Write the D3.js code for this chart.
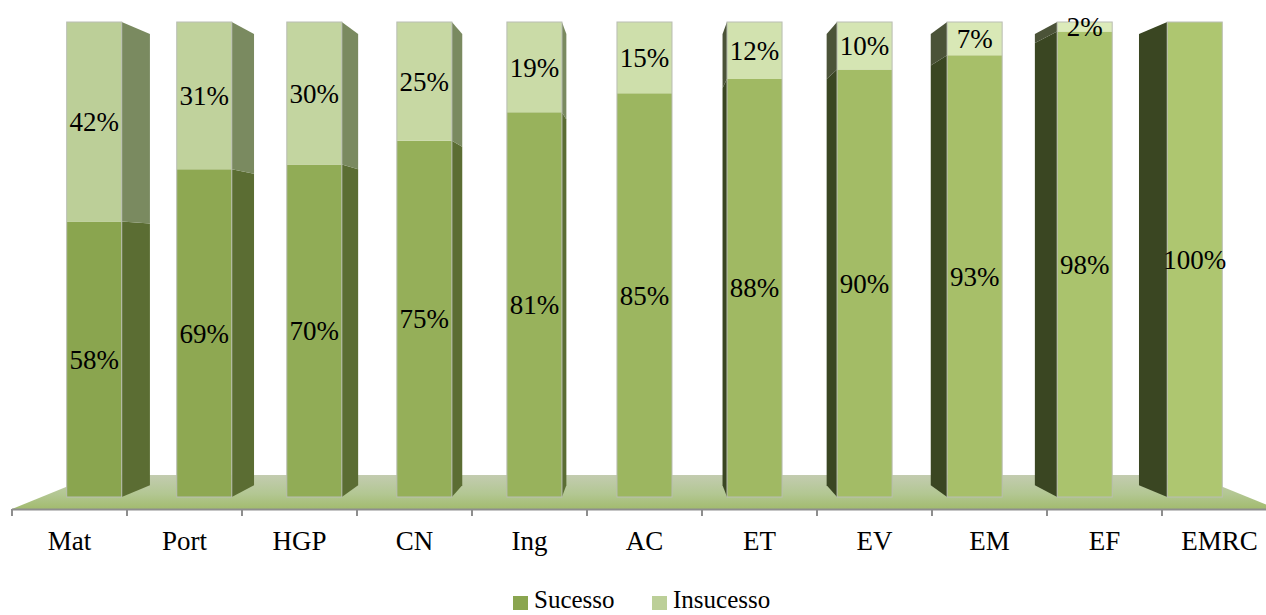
<!DOCTYPE html>
<html><head><meta charset="utf-8">
<script src="https://cdn.jsdelivr.net/npm/d3@7/dist/d3.min.js"></script>
<style>html,body{margin:0;padding:0;background:#fff;}svg{display:block;}</style>
</head><body><svg id="c" width="1266" height="615"></svg>
<script>
const categories = ["Mat","Port","HGP","CN","Ing","AC","ET","EV","EM","EF","EMRC"];
const sucesso   = [58,69,70,75,81,85,88,90,93,98,100];
const insucesso = [42,31,30,25,19,15,12,10,7,2,0];
const seriesNames = ["Sucesso","Insucesso"];

const svg = d3.select("#c");
const W = 1266;
const x = d3.scaleBand().domain(categories).range([12, 1277]).paddingInner(0).paddingOuter(0);
const y = d3.scaleLinear().domain([0, 100]).range([497, 22]);
const VX = 644, VY = 259.5, FRONT = 0.957, KX = 0.946, KY = 0.95;
const fx = v => VX + (v - VX) * FRONT;
const bx = v => VX + (v - VX) * KX;
const by = v => VY + (v - VY) * KY;

// floor
const defs = svg.append("defs");
const fg = defs.append("linearGradient").attr("id","floorG").attr("x1",0).attr("y1",0).attr("x2",0).attr("y2",1);
fg.append("stop").attr("offset","0%").attr("stop-color","#c3ccb0");
fg.append("stop").attr("offset","55%").attr("stop-color","#b3c793");
fg.append("stop").attr("offset","100%").attr("stop-color","#a2bb6e");
const x0 = x.range()[0], x1 = x.range()[1];
const floorBack = 475, floorFront = 509;
const kF = 0.868;
svg.append("path")
  .attr("d", d3.line()([[x0,floorFront],[VX+(x0-VX)*kF,floorBack],[VX+(x1-VX)*kF,floorBack],[x1,floorFront]]) + "Z")
  .attr("fill","url(#floorG)");

// axis
svg.append("line").attr("x1",x0).attr("x2",W).attr("y1",509.5).attr("y2",509.5)
  .attr("stroke","#8e8e8e").attr("stroke-width",2);
svg.selectAll("line.tick").data(categories).join("line").attr("class","tick")
  .attr("x1",d=>x(d)).attr("x2",d=>x(d)).attr("y1",509).attr("y2",516)
  .attr("stroke","#8e8e8e").attr("stroke-width",2);
svg.selectAll("text.cat").data(categories).join("text").attr("class","cat")
  .attr("x",d=>x(d)+x.bandwidth()/2).attr("y",550)
  .attr("text-anchor","middle").attr("font-family","Liberation Serif, serif").attr("font-size",27)
  .attr("fill","#000").text(d=>d);

// colours
const n = categories.length;
const sucFront = d3.interpolateRgb("#8aa54f","#aec670");
const insFront = d3.interpolateRgb("#bccf98","#e0eebe");
const sideRight = {s:"#5b6d33", i:"#7a8a60"};
const sideLeft = {s:"#3a4622", i:"#4b5338"};

const bars = categories.map((c,i)=>{
  const cx = fx(x(c)+x.bandwidth()/2);
  const hw = x.bandwidth()*0.5*FRONT/2;
  return {c,i,l:cx-hw,r:cx+hw,cx,segs:[
    {k:"s",v0:0,v1:sucesso[i],val:sucesso[i]},
    {k:"i",v0:sucesso[i],v1:sucesso[i]+insucesso[i],val:insucesso[i]}
  ].filter(s=>s.val>0)};
});

const g = svg.append("g");
bars.forEach(b=>{
  const t = b.i/(n-1);
  b.segs.forEach(s=>{
    const yt = y(s.v1), yb = y(s.v0);
    if (b.r < VX - 1) {
      g.append("path").attr("d", d3.line()([[b.r,yt],[bx(b.r),by(yt)],[bx(b.r),by(yb)],[b.r,yb]])+"Z")
        .attr("fill", sideRight[s.k]);
    } else if (b.l > VX + 1) {
      g.append("path").attr("d", d3.line()([[b.l,yt],[bx(b.l),by(yt)],[bx(b.l),by(yb)],[b.l,yb]])+"Z")
        .attr("fill", sideLeft[s.k]);
    }
    g.append("rect").attr("x",b.l).attr("y",yt).attr("width",b.r-b.l).attr("height",yb-yt)
      .attr("fill", s.k==="s" ? sucFront(t) : insFront(t));
  });
  g.append("rect").attr("x",b.l).attr("y",y(100)).attr("width",b.r-b.l).attr("height",y(0)-y(100))
    .attr("fill","none").attr("stroke","#b9bdb3").attr("stroke-width",1);
});

// data labels
bars.forEach(b=>{
  b.segs.forEach(s=>{
    g.append("text").attr("x",b.cx).attr("y",(y(s.v0)+y(s.v1))/2)
      .attr("dy","0.35em").attr("text-anchor","middle")
      .attr("font-family","Liberation Serif, serif").attr("font-size",27).attr("fill","#000")
      .text(s.val+"%");
  });
});

// legend
const leg = svg.append("g");
const legItems = [{name:seriesNames[0],col:"#8aa54f",x:513},{name:seriesNames[1],col:"#bccf98",x:652}];
legItems.forEach(d=>{
  leg.append("rect").attr("x",d.x).attr("y",596).attr("width",15).attr("height",14).attr("fill",d.col);
  leg.append("text").attr("x",d.x+21).attr("y",608).attr("font-family","Liberation Serif, serif")
    .attr("font-size",25).attr("fill","#000").text(d.name);
});
</script></body></html>
